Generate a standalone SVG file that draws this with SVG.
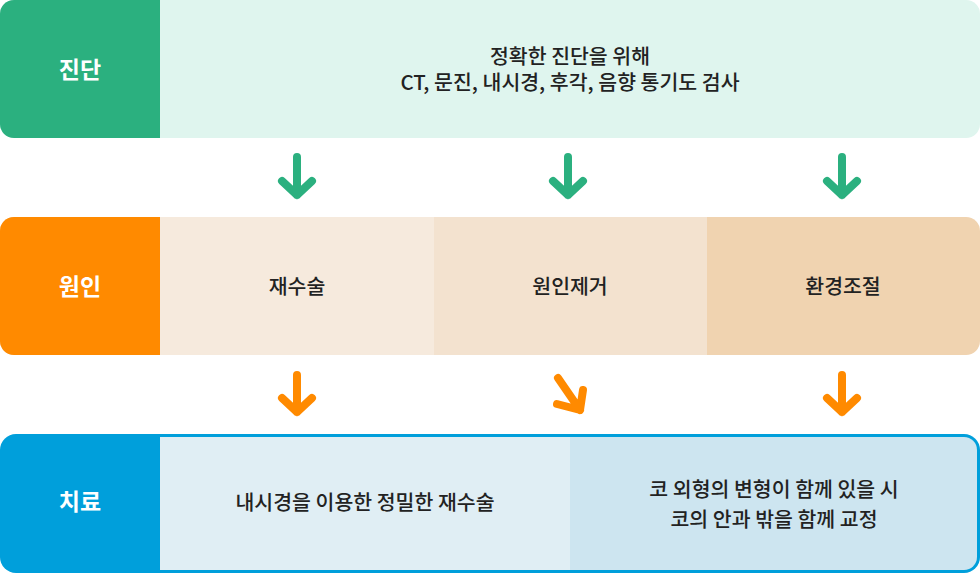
<svg xmlns="http://www.w3.org/2000/svg" width="980" height="573" viewBox="0 0 980 573">
<style>
.lbl{font-family:"Noto Sans CJK KR","Noto Sans",sans-serif;font-size:23px;font-weight:700;fill:#ffffff;text-anchor:middle}
.txt{font-family:"Noto Sans CJK KR","Noto Sans",sans-serif;font-size:20.5px;font-weight:500;fill:#222222;text-anchor:middle}
.ag{fill:none;stroke:#2BB07F;stroke-width:8;stroke-linecap:round;stroke-linejoin:round}
.ao{fill:none;stroke:#FF8A00;stroke-width:8;stroke-linecap:round;stroke-linejoin:round}
</style>
<rect width="980" height="573" fill="#ffffff"/>
<g id="row-diagnosis">
  <rect x="0" y="0" width="980" height="138" rx="14" fill="#DFF5EE"/>
  <path d="M14 0 H160 V138 H14 A14 14 0 0 1 0 124 V14 A14 14 0 0 1 14 0 Z" fill="#2BB07F"/>
  <text class="lbl" x="80" y="78">진단</text>
  <text class="txt" x="570" y="64">정확한 진단을 위해</text>
  <text class="txt" x="570" y="90">CT, 문진, 내시경, 후각, 음향 통기도 검사</text>
</g>
<g id="row-cause">
  <rect x="0" y="217" width="980" height="138" rx="14" fill="#F0D3B0"/>
  <rect x="160" y="217" width="274" height="138" fill="#F6EADD"/>
  <rect x="434" y="217" width="273" height="138" fill="#F3E2CF"/>
  <path d="M14 217 H160 V355 H14 A14 14 0 0 1 0 341 V231 A14 14 0 0 1 14 217 Z" fill="#FF8A00"/>
  <text class="lbl" x="80" y="295">원인</text>
  <text class="txt" x="297" y="294">재수술</text>
  <text class="txt" x="570" y="294">원인제거</text>
  <text class="txt" x="843" y="294">환경조절</text>
</g>
<g id="row-treatment">
  <rect x="0" y="434" width="980" height="139" rx="16" fill="#009FDB"/>
  <rect x="160" y="437" width="410" height="133" fill="#E0EEF4"/>
  <path d="M570 437 H964 A13 13 0 0 1 977 450 V557 A13 13 0 0 1 964 570 H570 Z" fill="#CDE5F0"/>
  <text class="lbl" x="80" y="510">치료</text>
  <text class="txt" x="365" y="510">내시경을 이용한 정밀한 재수술</text>
  <text class="txt" x="774" y="497">코 외형의 변형이 함께 있을 시</text>
  <text class="txt" x="774" y="527">코의 안과 밖을 함께 교정</text>
</g>
<g id="connectors">
  <path class="ag" d="M297 157 V195 M282 181 L297 195 L312 181"/>
  <path class="ag" d="M568 157 V195 M553 181 L568 195 L583 181"/>
  <path class="ag" d="M842 157 V195 M827 181 L842 195 L857 181"/>
  <path class="ao" d="M297 375 V412 M282 398 L297 412 L312 398"/>
  <path class="ao" d="M558 378 L580 410 M557 404 L580 410 L583 390"/>
  <path class="ao" d="M842 375 V412 M827 398 L842 412 L857 398"/>
</g>
</svg>
